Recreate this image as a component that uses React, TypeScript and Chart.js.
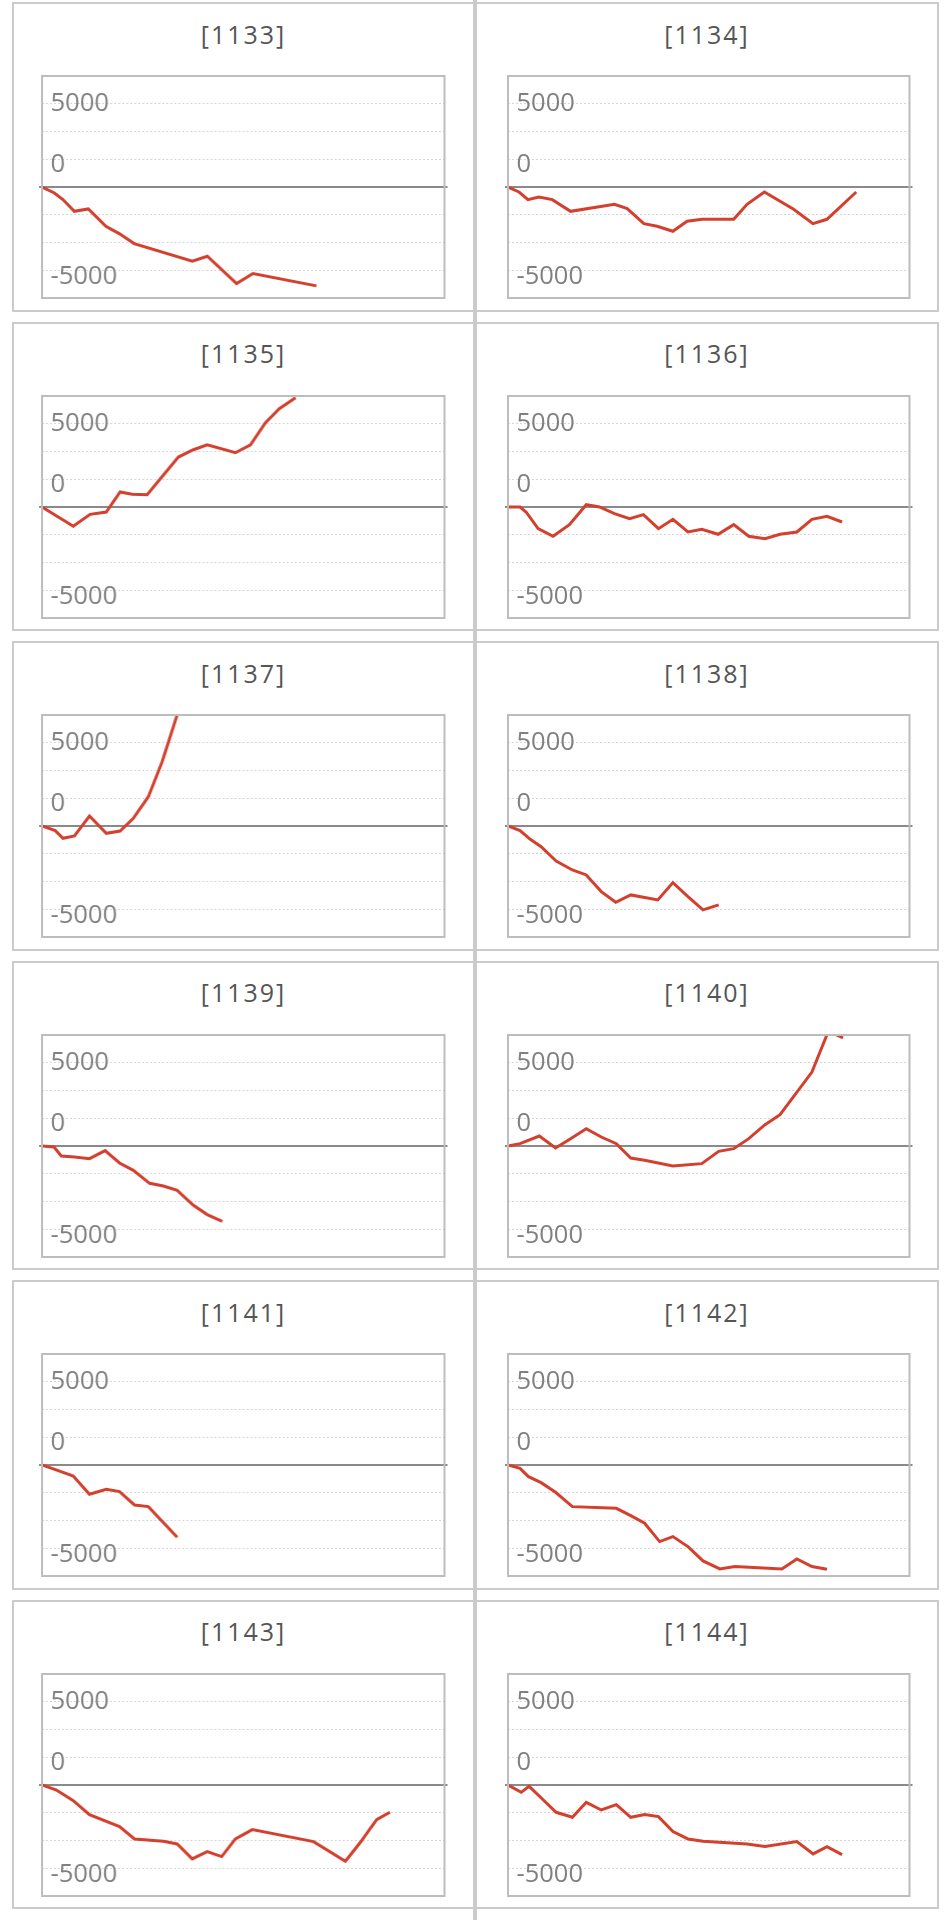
import React, { useEffect, useRef } from "react";
import { Chart, registerables } from "chart.js";

Chart.register(...registerables);

// ---------- data (x = games played, y = coin difference) ----------
const MACHINE_IDS = ["1133", "1134", "1135", "1136", "1137", "1138", "1139", "1140", "1141", "1142", "1143", "1144"];

const GAMES_1133 = [0, 306, 512, 802, 1149, 1587, 1917, 2289, 3735, 4107, 4834, 5240, 6818];
const DIFF_1133 = [0, -360, -740, -1460, -1320, -2360, -2800, -3400, -4460, -4160, -5800, -5200, -5940];

const GAMES_1134 = [0, 274, 498, 771, 1103, 1559, 2653, 2969, 3383, 3715, 4105, 4461, 4834, 5622, 5954, 6385, 7115, 7595, 7944, 8673];
const DIFF_1134 = [0, -300, -760, -600, -760, -1460, -1040, -1300, -2200, -2360, -2660, -2060, -1940, -1940, -1040, -300, -1340, -2200, -1940, -300];

const GAMES_1135 = [0, 776, 1194, 1597, 1940, 2239, 2612, 3388, 3761, 4104, 4806, 5179, 5552, 5895, 6298];
const DIFF_1135 = [0, -1160, -440, -300, 900, 760, 740, 3000, 3440, 3740, 3260, 3740, 5060, 5900, 6560];

const GAMES_1136 = [0, 300, 450, 750, 1124, 1529, 1949, 2279, 2653, 3028, 3373, 3748, 4108, 4482, 4827, 5232, 5622, 5996, 6401, 6776, 7195, 7570, 7945, 8320];
const DIFF_1136 = [0, 0, -300, -1300, -1760, -1060, 140, 0, -400, -700, -460, -1300, -740, -1500, -1340, -1640, -1060, -1760, -1900, -1640, -1500, -740, -560, -900];

const GAMES_1137 = [0, 328, 522, 806, 1179, 1597, 1940, 2269, 2642, 2985, 3400];
const DIFF_1137 = [0, -280, -740, -600, 600, -440, -300, 460, 1760, 3860, 7000];

const GAMES_1138 = [0, 300, 555, 825, 1199, 1604, 1949, 2323, 2683, 3058, 3732, 4107, 4482, 4857, 5247];
const DIFF_1138 = [0, -280, -800, -1240, -2100, -2640, -2940, -3940, -4580, -4140, -4440, -3400, -4240, -5040, -4740];

const GAMES_1139 = [0, 298, 478, 806, 1179, 1567, 1925, 2269, 2672, 3015, 3358, 3761, 4104, 4478];
const DIFF_1139 = [0, -60, -600, -660, -760, -280, -1020, -1460, -2240, -2400, -2660, -3560, -4120, -4520];

const GAMES_1140 = [0, 300, 780, 1184, 1559, 1949, 2323, 2698, 3058, 3403, 4107, 4827, 5247, 5622, 5996, 6401, 6776, 7570, 7980, 8343];
const DIFF_1140 = [0, 140, 600, -120, 440, 1040, 540, 140, -720, -860, -1200, -1060, -320, -160, 440, 1280, 1880, 4440, 6900, 6500];

const GAMES_1141 = [0, 403, 776, 1179, 1597, 1925, 2298, 2642, 3358];
const DIFF_1141 = [0, -340, -660, -1760, -1460, -1600, -2400, -2500, -4340];

const GAMES_1142 = [0, 300, 510, 825, 1184, 1604, 2698, 3058, 3403, 3777, 4107, 4482, 4857, 5277, 5651, 6821, 7195, 7570, 7945];
const DIFF_1142 = [0, -200, -700, -1060, -1640, -2500, -2600, -3040, -3500, -4600, -4300, -4900, -5760, -6240, -6100, -6240, -5640, -6100, -6260];

const GAMES_1143 = [0, 358, 776, 1179, 1925, 2298, 3015, 3358, 3731, 4104, 4463, 4806, 5224, 6746, 7537, 7910, 8313, 8642];
const DIFF_1143 = [0, -300, -940, -1780, -2500, -3240, -3380, -3540, -4440, -4000, -4300, -3240, -2680, -3400, -4580, -3440, -2080, -1640];

const GAMES_1144 = [0, 330, 525, 855, 1199, 1604, 1949, 2323, 2698, 3058, 3403, 3748, 4108, 4482, 4857, 5951, 6401, 7195, 7600, 7945, 8320];
const DIFF_1144 = [0, -440, -80, -840, -1640, -1940, -1040, -1500, -1180, -1940, -1780, -1900, -2800, -3240, -3380, -3540, -3700, -3400, -4140, -3700, -4180];

const GAMES = [GAMES_1133, GAMES_1134, GAMES_1135, GAMES_1136, GAMES_1137, GAMES_1138, GAMES_1139, GAMES_1140, GAMES_1141, GAMES_1142, GAMES_1143, GAMES_1144];
const DIFFS = [DIFF_1133, DIFF_1134, DIFF_1135, DIFF_1136, DIFF_1137, DIFF_1138, DIFF_1139, DIFF_1140, DIFF_1141, DIFF_1142, DIFF_1143, DIFF_1144];

// axes
const X_MIN = 0;
const X_MAX = 10000;
const Y_MIN = -6666.67;
const Y_MAX = 6666.67;
const GRID_VALUES = [-5000, -3333.33, -1666.67, 1666.67, 3333.33, 5000];
const Y_TICK_LABELS = ["5000", "0", "-5000"];
const Y_TICK_AT = [5000, 1666.67, -5000];

// ---------- styles / layout ----------
const LABEL_SHIFT_PX = [-0.5, 5.6, 6.2];
const PLOT_W = 401.5;
const PLOT_H = 222;
const PAD = 6;
const ROW_PITCH = 319.5;
const PLOT_LEFT = [42, 507.5];
const PLOT_TOP0 = 76;
const PANEL_LEFT = [11.7, 475.3];
const PANEL_W = [463.6, 463.4];
const PANEL_TOP0 = 2.2;
const PANEL_H = 309.5;
const LINE_COLOR = "#d3402e";
const GRID_COLOR = "#d6d6d6";
const FRAME_COLOR = "#bdbdbd";
const ZERO_COLOR = "#8a8a8a";
const PANEL_BORDER = "#cbcbcb";
const FONT = "'Open Sans', 'Noto Sans', sans-serif";

const UNITS_PER_PX = (Y_MAX - Y_MIN) / PLOT_H;

const framePlugin = {
  id: "frame",
  beforeDatasetsDraw(chart: any) {
    const { ctx, chartArea: a, scales } = chart;
    const y0 = scales.y.getPixelForValue(0);
    ctx.save();
    ctx.strokeStyle = ZERO_COLOR;
    ctx.lineWidth = 2;
    ctx.beginPath();
    ctx.moveTo(a.left - 3, y0);
    ctx.lineTo(a.right + 3, y0);
    ctx.stroke();
    ctx.restore();
  },
  afterDraw(chart: any) {
    const { ctx, chartArea: a } = chart;
    ctx.save();
    ctx.strokeStyle = FRAME_COLOR;
    ctx.lineWidth = 2;
    ctx.strokeRect(a.left, a.top, a.right - a.left, a.bottom - a.top);
    ctx.restore();
  },
};

const zeroFit = (sc: any) => {
  sc.width = 0;
  sc.paddingTop = 0;
  sc.paddingBottom = 0;
  sc.paddingLeft = 0;
  sc.paddingRight = 0;
};

function Panel({ index }: { index: number }) {
  const ref = useRef<HTMLCanvasElement>(null);
  const row = Math.floor(index / 2);
  const col = index % 2;

  useEffect(() => {
    const xs = GAMES[index];
    const ys = DIFFS[index];
    const chart = new Chart(ref.current as HTMLCanvasElement, {
      type: "line",
      data: {
        datasets: [
          {
            data: xs.map((g, i) => ({ x: g, y: ys[i] })),
            xAxisID: "x",
            yAxisID: "y",
            borderColor: LINE_COLOR,
            borderWidth: 3,
            pointRadius: 0,
            tension: 0,
            fill: false,
            clip: 0,
          } as any,
        ],
      },
      options: {
        animation: false,
        responsive: true,
        maintainAspectRatio: false,
        events: [],
        layout: { padding: PAD },
        plugins: { legend: { display: false }, tooltip: { enabled: false } },
        scales: {
          x: { type: "linear", min: X_MIN, max: X_MAX, display: false },
          y: {
            type: "linear",
            position: "left",
            min: Y_MIN,
            max: Y_MAX,
            afterBuildTicks: (sc: any) => {
              sc.ticks = GRID_VALUES.map((v) => ({ value: v }));
            },
            afterFit: zeroFit,
            ticks: { display: false },
            grid: { color: GRID_COLOR, lineWidth: 1, drawTicks: false },
            border: { display: false, dash: [2, 2] },
          },
          yl: {
            type: "linear",
            position: "left",
            min: Y_MIN,
            max: Y_MAX,
            afterBuildTicks: (sc: any) => {
              sc.ticks = Y_TICK_AT.map((v, i) => ({ value: v - LABEL_SHIFT_PX[i] * UNITS_PER_PX }));
            },
            afterFit: zeroFit,
            grid: { display: false },
            border: { display: false },
            ticks: {
              mirror: true,
              padding: 8.5,
              autoSkip: false,
              color: "#808080",
              font: { family: FONT, size: 25.5, weight: 400 as any },
              callback: (_v: any, i: number) => Y_TICK_LABELS[i],
            },
          },
        } as any,
      },
      plugins: [framePlugin],
    });
    return () => chart.destroy();
  }, [index]);

  const panelTop = PANEL_TOP0 + row * ROW_PITCH;
  const plotTop = PLOT_TOP0 + row * ROW_PITCH;

  return (
    <>
      <div
        style={{
          position: "absolute",
          left: PANEL_LEFT[col],
          top: panelTop,
          width: PANEL_W[col],
          height: PANEL_H,
          border: `2px solid ${PANEL_BORDER}`,
          boxSizing: "border-box",
        }}
      />
      <div
        style={{
          position: "absolute",
          left: PANEL_LEFT[col],
          top: panelTop + 19.7,
          width: PANEL_W[col],
          height: 25,
          lineHeight: "25px",
          textAlign: "center",
          fontFamily: FONT,
          fontWeight: 400,
          fontSize: 25,
          letterSpacing: 2,
          color: "#555",
          whiteSpace: "nowrap",
        }}
      >
        [{MACHINE_IDS[index]}]
      </div>
      <div
        style={{
          position: "absolute",
          left: PLOT_LEFT[col] - PAD,
          top: plotTop - PAD,
          width: PLOT_W + 2 * PAD,
          height: PLOT_H + 2 * PAD,
        }}
      >
        <canvas ref={ref} />
      </div>
    </>
  );
}

export default function App() {
  return (
    <div
      style={{
        position: "absolute",
        left: 0,
        top: 0,
        width: 947,
        height: 1920,
        background: "#fff",
        overflow: "hidden",
      }}
    >
      <div
        style={{
          position: "absolute",
          left: 473.3,
          top: 0,
          width: 4,
          height: 1920,
          background: PANEL_BORDER,
        }}
      />
      {MACHINE_IDS.map((_, i) => (
        <Panel key={i} index={i} />
      ))}
    </div>
  );
}
